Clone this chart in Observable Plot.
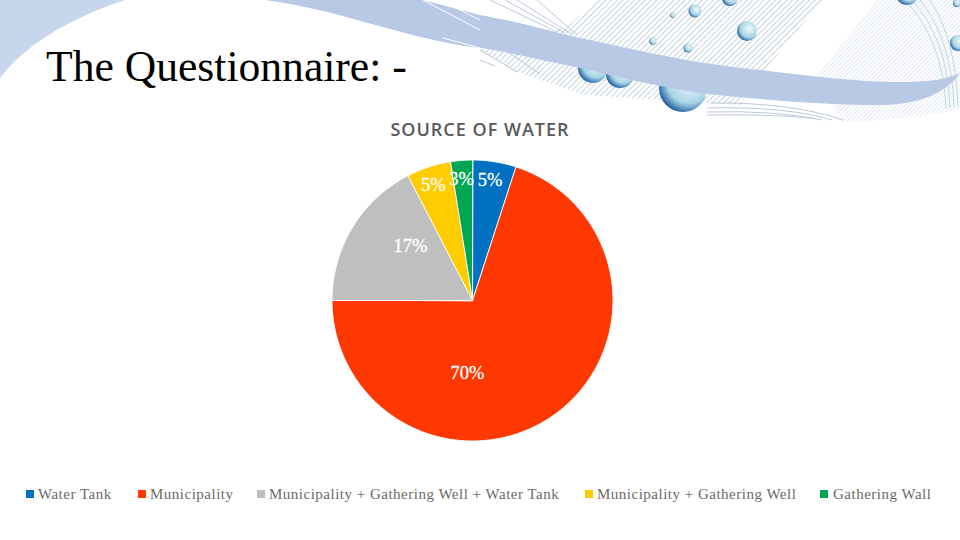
<!DOCTYPE html>
<html><head><meta charset="utf-8">
<script src="https://cdn.jsdelivr.net/npm/d3@7"></script>
<script src="https://cdn.jsdelivr.net/npm/@observablehq/plot@0.6"></script>
<style>
html,body{margin:0;padding:0;background:#fff}
#page{position:relative;width:960px;height:540px;overflow:hidden}
#bg{position:absolute;left:0;top:0}
#title{position:absolute;left:46px;top:39px;font:43.6px "Liberation Serif",serif;color:#000;white-space:nowrap;line-height:54px}
#sub{position:absolute;left:0;width:960px;top:117px;text-align:center;font:600 18px "Open Sans",sans-serif;letter-spacing:1px;color:#595959;line-height:24px}
#chart{position:absolute;left:0;top:145px}
.lg{position:absolute;top:485px;font:15px "Liberation Serif",serif;letter-spacing:.5px;color:#6a6a6a;line-height:19px;white-space:nowrap}
.sw{position:absolute;top:490px;width:8px;height:8px}
</style></head><body>
<div id="page">
<svg id="bg" width="960" height="540" viewBox="0 0 960 540">
<defs>
<pattern id="h1" width="4" height="4" patternUnits="userSpaceOnUse" patternTransform="rotate(-45)"><rect width="4" height="1" fill="#c6d2dc"/></pattern>
<pattern id="h2" width="3" height="3" patternUnits="userSpaceOnUse" patternTransform="rotate(-45)"><rect width="3" height="1" fill="#e2e8f2"/></pattern>
<radialGradient id="b" cx=".62" cy=".38" r=".68"><stop offset="0" stop-color="#eef8fa"/><stop offset=".65" stop-color="#a8d5e6"/><stop offset="1" stop-color="#14559c"/></radialGradient>
</defs>
<path d="M0 0H125C70 18 25 45 0 78Z" fill="#c6d6ec"/>
<path d="M567 27L597 0H823L763 72L740 105L660 100L585 95L517 72L480 50Z" fill="url(#h1)"/>
<path d="M877 0H960V110Q900 120 843 122L817 75Z" fill="url(#h2)"/>
<g fill="none" stroke="#bfd9dc" stroke-width="1">
<path d="M905 0Q943 40 946 108"/><path d="M912 0Q948 40 950 108"/><path d="M920 0Q952 40 954 107"/><path d="M930 0Q956 40 958 106"/>
</g>
<g fill="none" stroke="#bcc8d8" stroke-width="1">
<path d="M490 0L557 32"/><path d="M505 0L565 33"/><path d="M517 0L573 35"/><path d="M537 0L577 35"/>
<path d="M480 50L517 72"/><path d="M480 60L495 66"/><path d="M505 50L540 74"/>
<path d="M710 103Q790 102 843 120"/><path d="M707 108Q785 106 832 120"/><path d="M707 112Q775 110 822 120"/><path d="M707 115Q765 114 813 118"/>
</g>
<g fill="url(#b)">
<circle cx="695" cy="11" r="6.5"/><circle cx="747" cy="31" r="10"/><circle cx="673" cy="15" r="2.8"/><circle cx="653" cy="41" r="3.8"/><circle cx="688" cy="48" r="4.5"/>
<circle cx="730" cy="-2" r="8"/><circle cx="907" cy="-6" r="11"/><circle cx="958" cy="43" r="8"/><circle cx="957" cy="3" r="4"/>
<circle cx="593" cy="68" r="15"/><circle cx="620" cy="74" r="14"/><circle cx="683" cy="88" r="24"/>
</g>
<path d="M265 0H423L480 15C530 24 560 34 580 38C640 50 680 62 760 70C820 77 860 82 900 82C925 82 945 80 960 73C945 95 915 105 880 105C830 105 760 100 700 93C650 85 610 75 580 68C530 58 500 50 480 48C440 44 395 30 357 20C330 12 300 5 265 0Z" fill="#b8c9e6"/>
<g fill="none" stroke="#fff" stroke-width="1">
<path d="M423 0L480 30"/><path d="M440 0L480 20"/><path d="M443 38L480 48"/>
</g>
</svg>
<div id="title">The Questionnaire: -</div>
<div id="sub">SOURCE OF WATER</div>
<div id="chart"></div>
<div id="legend"></div>
</div>
<script>
const categories = ["Water Tank","Municipality","Municipality + Gathering Well + Water Tank","Municipality + Gathering Well","Gathering Wall"];
const values = [5,70,17.4,5.1,2.5];
const labels = ["5%","70%","17%","5%","3%"];
const colors = ["#0070c0","#ff3700","#bfbfbf","#ffcc00","#00a651"];

const pie = d3.pie().sort(null)(values);
const slices = [];
pie.forEach((p,i)=>{
  const n = Math.max(2, Math.ceil((p.endAngle-p.startAngle)/0.01));
  slices.push({name:categories[i],x:0,y:0});
  for(let k=0;k<=n;k++){
    const a = p.startAngle+(p.endAngle-p.startAngle)*k/n;
    slices.push({name:categories[i],x:Math.sin(a),y:Math.cos(a)});
  }
});
const nudges = [[0,-9],[-71,-18],[34,4],[-4,-9],[-2,-9]];
const labelMarks = pie.map((p,i)=>{
  const a=(p.startAngle+p.endAngle)/2;
  return Plot.text([{x:.8*Math.sin(a),y:.8*Math.cos(a),t:labels[i]}],{
    x:"x",y:"y",text:"t",dx:nudges[i][0],dy:nudges[i][1],
    fill:"#fff",stroke:"#fff",strokeWidth:.3,fontSize:18.5,fontFamily:"Liberation Serif"
  });
});
const R=140.5;
const chart = Plot.plot({
  width:960,height:310,margin:0,
  style:{background:"transparent"},
  x:{domain:[-472/R,488/R],axis:null},
  y:{domain:[-155/R,155/R],axis:null},
  color:{domain:categories,range:colors},
  marks:[
    Plot.line(slices,{x:"x",y:"y",z:"name",fill:"name",stroke:"#fff",strokeWidth:1,curve:"linear-closed"}),
    ...labelMarks
  ]
});
document.getElementById("chart").append(chart);
const swX=[26,138,257,585,820], txX=[38,150,269,597,833];
const lg=document.getElementById("legend");
categories.forEach((c,i)=>{
  const s=document.createElement("div");s.className="sw";s.style.left=swX[i]+"px";s.style.background=colors[i];lg.append(s);
  const t=document.createElement("div");t.className="lg";t.style.left=txX[i]+"px";t.textContent=c;lg.append(t);
});
</script>
</body></html>
